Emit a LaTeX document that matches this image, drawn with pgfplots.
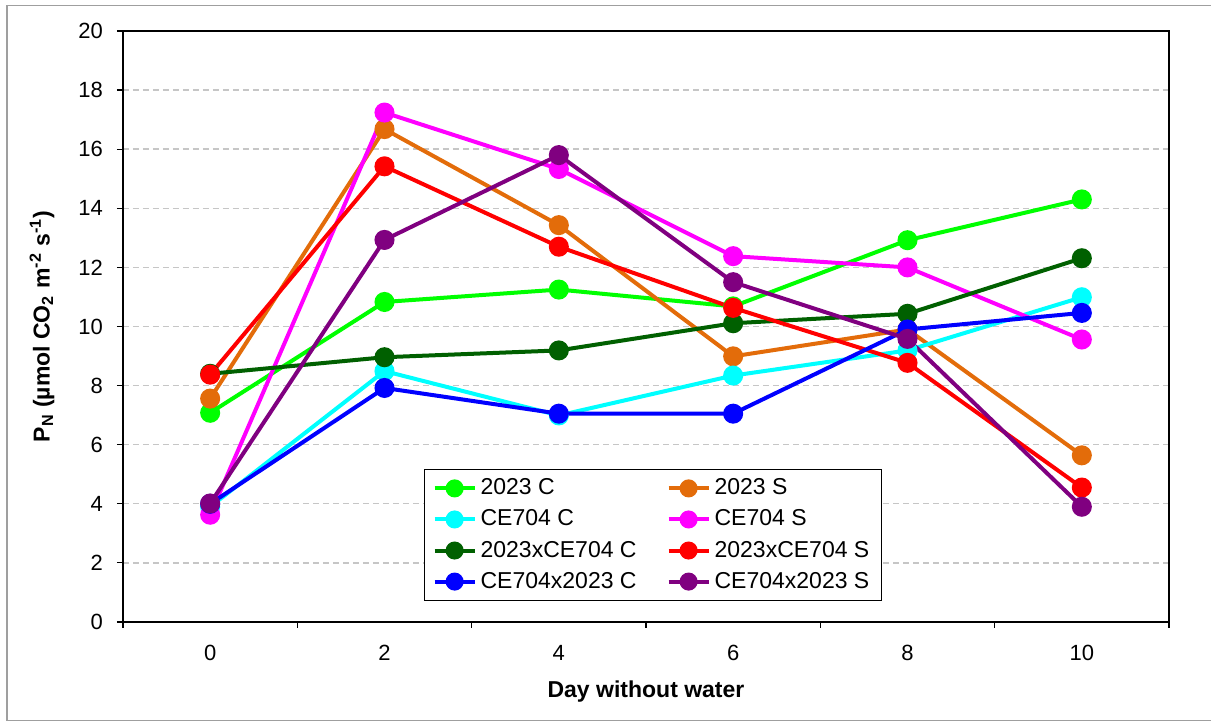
\documentclass[border=0pt]{standalone}
\usepackage{fontspec}
\setmainfont{Liberation Sans}
\usepackage{pgfplots}
\pgfplotsset{compat=1.18}

\definecolor{cgreen}{HTML}{00FF00}
\definecolor{corange}{HTML}{E36C0A}
\definecolor{ccyan}{HTML}{00FFFF}
\definecolor{cmagenta}{HTML}{FF00FF}
\definecolor{cdkgreen}{HTML}{006000}
\definecolor{cred}{HTML}{FF0000}
\definecolor{cblue}{HTML}{0000FF}
\definecolor{cpurple}{HTML}{800080}

\pgfplotsset{
  ser/.style={color=#1, line width=2pt, mark=*, mark size=4pt, mark options={solid, fill=#1, draw=#1}},
}

\begin{document}
\begin{tikzpicture}
\begin{axis}[
  at={(0,0)}, anchor=south west,
  scale only axis, width=523pt, height=295.5pt,
  xmin=-1, xmax=11, ymin=0, ymax=20,
  xtick={0,2,...,10}, minor xtick={-1,1,...,11},
  ytick={0,2,...,20},
  tick pos=left, tick align=outside,
  major tick length=3pt, minor tick length=3pt,
  major x tick style={draw=none},
  every tick/.style={black, line width=0.6pt},
  axis line style={line width=0.8pt},
  ymajorgrids=true,
  grid style={gray!45, line width=0.7pt, dash pattern=on 3pt off 2pt},
  /pgf/number format/assume math mode=true,
  ticklabel style={font=\fontsize{11}{13}\selectfont},
  xticklabel style={yshift=-5pt},
  yticklabel style={xshift=-3.5pt},
  every axis x label/.style={at={(axis description cs:0.5,-0.1184)}, anchor=center},
  every axis y label/.style={at={(axis description cs:-0.0774,0.5)}, rotate=90, anchor=center},
  label style={font=\fontsize{11.5}{13}\selectfont\bfseries},
  xlabel={Day without water},
  ylabel={P\textsubscript{N} (µmol CO\textsubscript{2} m\textsuperscript{-2} s\textsuperscript{-1})},
  legend columns=2,
  legend cell align=left,
  legend style={at={(rel axis cs:0.2878,0.2584)}, anchor=north west,
    draw=black, line width=0.6pt, font=\fontsize{11.5}{13}\selectfont,
    row sep=2pt, inner xsep=4pt, inner ysep=2.5pt,
    /tikz/column 2/.style={column sep=13pt}},
  legend image code/.code={\draw[mark repeat=2, mark phase=2, mark size=3.5pt] plot coordinates {(0pt,0pt) (10pt,0pt) (20pt,0pt)};},
]

\addplot[ser=cgreen] coordinates {(0,7.08) (2,10.83) (4,11.25) (6,10.68) (8,12.92) (10,14.3)};
\addlegendentry{2023 C}
\addplot[ser=corange] coordinates {(0,7.56) (2,16.68) (4,13.43) (6,8.99) (8,9.9) (10,5.64)};
\addlegendentry{2023 S}
\addplot[ser=ccyan] coordinates {(0,3.9) (2,8.49) (4,6.99) (6,8.34) (8,9.19) (10,10.99)};
\addlegendentry{CE704 C}
\addplot[ser=cmagenta] coordinates {(0,3.63) (2,17.24) (4,15.33) (6,12.38) (8,12.0) (10,9.56)};
\addlegendentry{CE704 S}
\addplot[ser=cdkgreen] coordinates {(0,8.4) (2,8.96) (4,9.19) (6,10.11) (8,10.43) (10,12.31)};
\addlegendentry{2023xCE704 C}
\addplot[ser=cred] coordinates {(0,8.37) (2,15.42) (4,12.7) (6,10.63) (8,8.77) (10,4.55)};
\addlegendentry{2023xCE704 S}
\addplot[ser=cblue] coordinates {(0,4.0) (2,7.92) (4,7.05) (6,7.05) (8,9.9) (10,10.46)};
\addlegendentry{CE704x2023 C}
\addplot[ser=cpurple] coordinates {(0,4.01) (2,12.93) (4,15.8) (6,11.5) (8,9.58) (10,3.9)};
\addlegendentry{CE704x2023 S}
\end{axis}
\pgfresetboundingbox
\useasboundingbox (-61.5pt,-50pt) rectangle (544pt,311pt);
\draw[gray!75, line width=0.6pt] (560pt,308.25pt) -- (-58pt,308.25pt) -- (-58pt,-49.3pt) -- (560pt,-49.3pt);
\end{tikzpicture}
\end{document}
